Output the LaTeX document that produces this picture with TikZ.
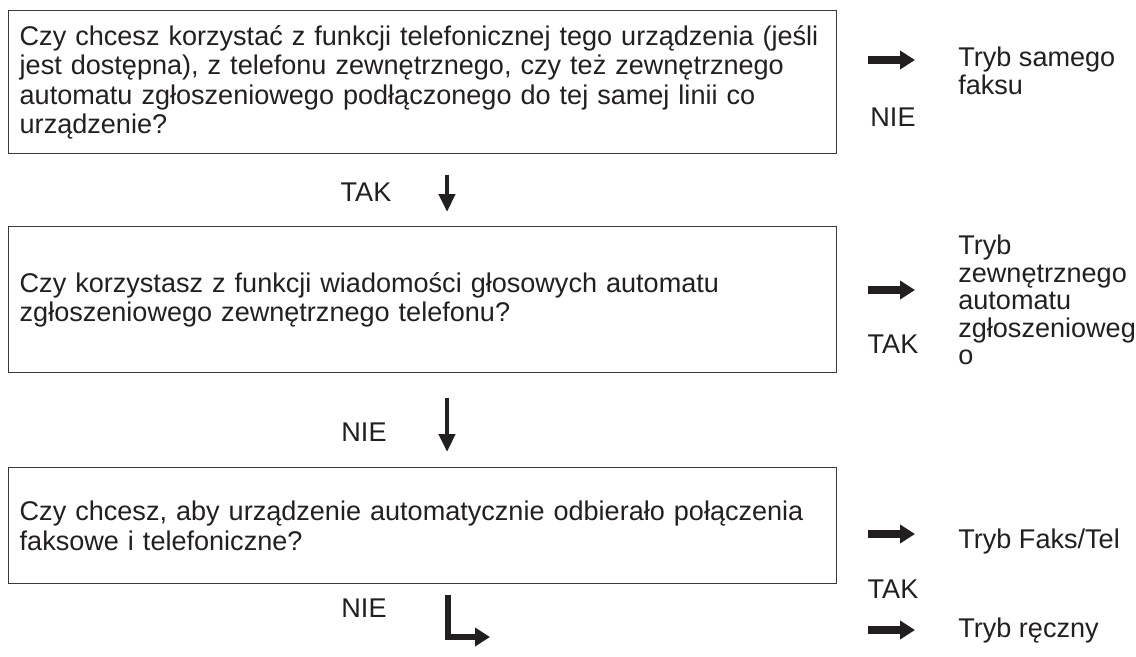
\documentclass[tikz,border=0pt]{standalone}
\usepackage{fontspec}
\setmainfont{Liberation Sans}
\usetikzlibrary{arrows.meta}
\definecolor{czarny}{HTML}{231F20}
\definecolor{ramka}{HTML}{3A3A3A}
\tikzset{
  pytanie/.style={draw=ramka,line width=0.8pt,anchor=north west,align=left,
    text width=16.12cm,inner xsep=0.22cm,inner ysep=0pt,text=czarny,
    font=\fontsize{15.4}{16.8}\selectfont},
  etyk/.style={text=czarny,inner sep=0pt,font=\fontsize{15.4}{15.6}\selectfont},
  tryb/.style={etyk,anchor=west,align=left},
  strz/.style={-{Triangle[length=0.3cm,width=0.36cm]},czarny,line width=4pt},
  strzg/.style={-{Triangle[length=0.36cm,width=0.32cm]},czarny,line width=2.8pt},
}
\begin{document}
\begin{tikzpicture}
  \useasboundingbox (0,0) rectangle (22.72,13.12);
  % Pytania
  \node[pytanie,minimum height=2.86cm] (p1) at (0.16,12.92)
    {Czy chcesz korzystać z funkcji telefonicznej tego urządzenia (jeśli\\
     jest dostępna), z telefonu zewnętrznego, czy też zewnętrznego\\
     automatu zgłoszeniowego podłączonego do tej samej linii co\\
     urządzenie?};
  \node[pytanie,minimum height=2.92cm] (p2) at (0.16,8.60)
    {Czy korzystasz z funkcji wiadomości głosowych automatu\\
     zgłoszeniowego zewnętrznego telefonu?};
  \node[pytanie,minimum height=2.32cm] (p3) at (0.16,3.78)
    {Czy chcesz, aby urządzenie automatycznie odbierało połączenia\\
     faksowe i telefoniczne?};
  % Strzalki w dol
  \node[etyk] (t1) at (7.32,9.28) {TAK};
  \coordinate (d1a) at (8.94,9.62);
  \coordinate (d1b) at (8.94,8.88);
  \draw[strzg] (d1a) -- (d1b);
  \node[etyk] (n1) at (7.28,4.48) {NIE};
  \coordinate (d2a) at (8.94,5.16);
  \coordinate (d2b) at (8.94,4.08);
  \draw[strzg] (d2a) -- (d2b);
  \node[etyk] (n2) at (7.28,0.96) {NIE};
  \coordinate (d3a) at (8.96,1.22);
  \coordinate (d3b) at (9.80,0.38);
  \draw[strz,line width=3.4pt] (d3a) |- (d3b);
  % Odpowiedzi po prawej
  \coordinate (r1a) at (17.36,11.92);
  \coordinate (r1b) at (18.30,11.92);
  \draw[strz] (r1a) -- (r1b);
  \node[etyk] (n0) at (17.86,10.78) {NIE};
  \node[tryb] (w1) at (19.16,11.70) {Tryb samego\\faksu};
  \coordinate (r2a) at (17.36,7.32);
  \coordinate (r2b) at (18.30,7.32);
  \draw[strz] (r2a) -- (r2b);
  \node[etyk] (t2) at (17.86,6.24) {TAK};
  \node[tryb] (w2) at (19.16,7.12)
    {Tryb\\zewnętrznego\\automatu\\zgłoszenioweg\\o};
  \coordinate (r3a) at (17.36,2.44);
  \coordinate (r3b) at (18.30,2.44);
  \draw[strz] (r3a) -- (r3b);
  \node[etyk] (t3) at (17.86,1.34) {TAK};
  \node[tryb] (w3) at (19.16,2.30) {Tryb Faks/Tel};
  \coordinate (r4a) at (17.36,0.52);
  \coordinate (r4b) at (18.30,0.52);
  \draw[strz] (r4a) -- (r4b);
  \node[tryb] (w4) at (19.16,0.50) {Tryb ręczny};
\end{tikzpicture}
\end{document}
